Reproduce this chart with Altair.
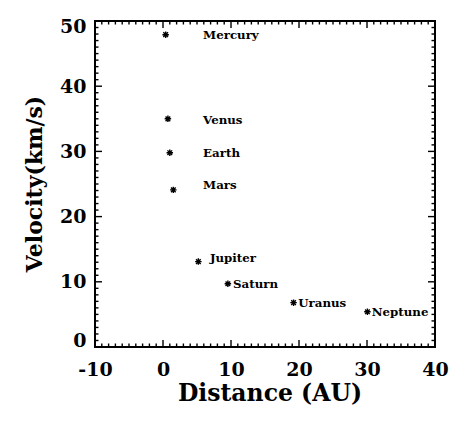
import altair as alt
import pandas as pd

# Data
planets = ["Mercury", "Venus", "Earth", "Mars", "Jupiter", "Saturn", "Uranus", "Neptune"]
distance_au = [0.39, 0.72, 1.0, 1.52, 5.2, 9.54, 19.2, 30.06]
velocity_kms = [47.9, 35.0, 29.8, 24.1, 13.1, 9.7, 6.8, 5.4]
label_x = [5.9, 5.9, 5.9, 5.9, 6.9, 10.3, 19.9, 30.7]
label_y = [47.2, 34.2, 29.1, 24.2, 13.0, 9.0, 6.1, 4.75]

x_major = [-10, 0, 10, 20, 30, 40]
y_major = [0, 10, 20, 30, 40, 50]
x_minor = [v for v in range(-10, 41) if v not in x_major]
y_minor = [v for v in range(0, 51) if v not in y_major]

W, H = 340, 326
FONT = "DejaVu Serif"
MAJ, MIN = 7, 3.5

df = pd.DataFrame({"planet": planets, "dist": distance_au, "vel": velocity_kms,
                   "lx": label_x, "ly": label_y})

xs = alt.Scale(domain=[-10, 40], nice=False, zero=False)
ys = alt.Scale(domain=[0, 50], nice=False, zero=False)

x_axis = alt.Axis(values=x_major, title="Distance (AU)", grid=False, ticks=False, tickSize=0,
                  domain=False, labelFont=FONT, labelFontWeight="bold", labelFontSize=19,
                  labelColor="black", labelPadding=13, labelFlush=False,
                  labelExpr="'' + datum.value",
                  titleFont=FONT, titleFontWeight="bold", titleFontSize=23.5, titleColor="black",
                  titleBaseline="alphabetic", titleY=53, titleX=174.5, titleAlign="center")
y_axis = alt.Axis(values=y_major, title="Velocity(km/s)", grid=False, ticks=False, tickSize=0,
                  domain=False, labelFont=FONT, labelFontWeight="bold", labelFontSize=19,
                  labelColor="black", labelPadding=9, labelFlush=True, labelFlushOffset=3.5,
                  titleFont=FONT, titleFontWeight="bold", titleFontSize=22, titleColor="black",
                  titleAngle=270, titleBaseline="alphabetic", titleX=-54, titleY=162.5,
                  titleAlign="center")

asterisk = "M-1,0L1,0M0,-1L0,1M-0.72,-0.72L0.72,0.72M-0.72,0.72L0.72,-0.72"

points = alt.Chart(df).mark_point(shape=asterisk, size=42, filled=False, color="black",
                                  strokeWidth=1.4, opacity=1).encode(
    x=alt.X("dist:Q", scale=xs, axis=x_axis),
    y=alt.Y("vel:Q", scale=ys, axis=y_axis),
)

labels = alt.Chart(df).mark_text(align="left", baseline="alphabetic", font=FONT,
                                 fontWeight="bold", fontSize=11.8, color="black").encode(
    x=alt.X("lx:Q", scale=xs), y=alt.Y("ly:Q", scale=ys), text="planet:N")


def xticks(vals, length):
    d = pd.DataFrame({"v": vals})
    bottom = alt.Chart(d).mark_rule(color="black", strokeWidth=1.4).encode(
        x=alt.X("v:Q", scale=xs), y=alt.value(H), y2=alt.value(H - length))
    top = alt.Chart(d).mark_rule(color="black", strokeWidth=1.4).encode(
        x=alt.X("v:Q", scale=xs), y=alt.value(0), y2=alt.value(length))
    return [bottom, top]


def yticks(vals, length):
    d = pd.DataFrame({"v": vals})
    left = alt.Chart(d).mark_rule(color="black", strokeWidth=1.4).encode(
        y=alt.Y("v:Q", scale=ys), x=alt.value(0), x2=alt.value(length))
    right = alt.Chart(d).mark_rule(color="black", strokeWidth=1.4).encode(
        y=alt.Y("v:Q", scale=ys), x=alt.value(W), x2=alt.value(W - length))
    return [left, right]


layers = [points, labels] + xticks(x_major, MAJ) + xticks(x_minor, MIN) \
    + yticks(y_major, MAJ) + yticks(y_minor, MIN)

chart = alt.layer(*layers).properties(
    width=W, height=H,
    autosize=alt.AutoSizeParams(type="none"),
    padding={"left": 87, "top": 13, "right": 20, "bottom": 60},
    background="white",
).configure_view(stroke="black", strokeWidth=2)

chart.save("out.html", embed_options={"renderer": "svg", "actions": False})
